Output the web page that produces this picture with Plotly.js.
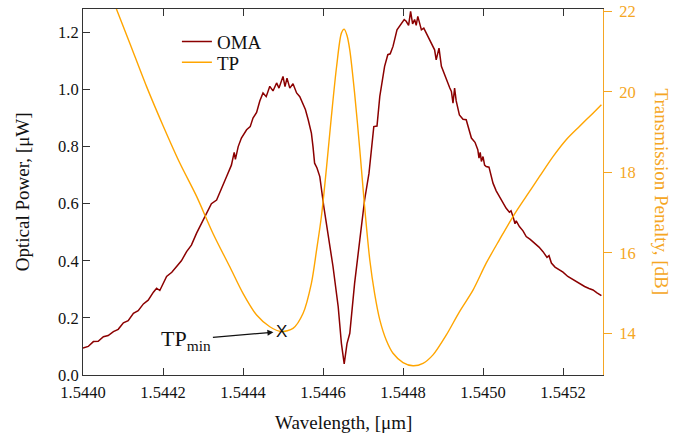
<!DOCTYPE html>
<html>
<head>
<meta charset="utf-8">
<script src="https://cdn.plot.ly/plotly-3.0.1.min.js"></script>
<style>html,body{margin:0;padding:0;background:#fff}#chart{width:677px;height:439px}</style>
</head>
<body>
<div id="chart"></div>
<script>
// ---- data ----
const omaWavelength = [
1.544000,1.544013,1.544026,1.544038,1.544051,1.544063,1.544076,1.544088,1.544101,1.544113,
1.544126,1.544138,1.544151,1.544163,1.544176,1.544184,1.544192,1.544209,1.544222,1.544234,
1.544246,1.544259,1.544271,1.544284,1.544296,1.544309,1.544321,1.544334,1.544346,1.544359,
1.544371,1.544378,1.544381,1.544388,1.544396,1.544409,1.544418,1.544425,1.544434,1.544442,
1.544450,1.544458,1.544467,1.544475,1.544484,1.544490,1.544500,1.544505,1.544510,1.544517,
1.544525,1.544534,1.544542,1.544550,1.544556,1.544563,1.544571,1.544575,1.544579,1.544585,
1.544592,1.544602,1.544613,1.544625,1.544638,1.544646,1.544653,1.544660,1.544667,1.544679,
1.544692,1.544704,1.544715,1.544727,1.544735,1.544742,1.544754,1.544762,1.544768,1.544775,
1.544785,1.544796,1.544803,1.544808,1.544814,1.544819,1.544824,1.544829,1.544833,1.544837,
1.544846,1.544852,1.544858,1.544867,1.544872,1.544879,1.544883,1.544890,1.544896,1.544908,
1.544917,1.544921,1.544925,1.544929,1.544933,1.544941,1.544950,1.544958,1.544965,1.544971,
1.544980,1.544987,1.544990,1.544993,1.544996,1.545000,1.545004,1.545008,1.545015,1.545025,
1.545033,1.545041,1.545050,1.545058,1.545066,1.545070,1.545075,1.545080,1.545083,1.545091,
1.545100,1.545108,1.545118,1.545129,1.545140,1.545150,1.545160,1.545165,1.545171,1.545180,
1.545192,1.545200,1.545212,1.545222,1.545233,1.545243,1.545254,1.545265,1.545275,1.545285,
1.545296];
const omaValues = [
0.094,0.100,0.117,0.118,0.134,0.138,0.152,0.160,0.183,0.190,
0.216,0.225,0.249,0.262,0.290,0.304,0.296,0.345,0.360,0.380,
0.400,0.432,0.455,0.497,0.530,0.567,0.600,0.613,0.650,0.695,
0.735,0.780,0.755,0.800,0.830,0.859,0.870,0.900,0.920,0.960,
0.988,0.975,1.011,0.995,1.023,1.005,1.046,1.010,1.040,1.005,
1.020,0.988,0.975,0.952,0.930,0.894,0.847,0.800,0.742,0.725,
0.695,0.590,0.497,0.380,0.239,0.111,0.039,0.110,0.146,0.321,
0.473,0.613,0.707,0.870,0.872,0.976,1.081,1.122,1.125,1.151,
1.209,1.233,1.245,1.239,1.225,1.274,1.230,1.245,1.225,1.256,
1.209,1.215,1.198,1.174,1.160,1.139,1.104,1.145,1.081,1.034,
1.005,0.993,0.952,1.005,0.960,0.911,0.896,0.894,0.860,0.830,
0.815,0.789,0.760,0.780,0.748,0.765,0.735,0.730,0.728,0.672,
0.645,0.625,0.603,0.584,0.570,0.575,0.555,0.530,0.540,0.520,
0.505,0.485,0.475,0.462,0.448,0.432,0.412,0.418,0.392,0.378,
0.368,0.360,0.345,0.336,0.327,0.318,0.310,0.303,0.298,0.288,
0.278];

const tpWavelength = [
1.544080,1.544117,1.544159,1.544201,1.544242,1.544284,1.544325,1.544367,1.544400,1.544434,
1.544467,1.544496,1.544525,1.544550,1.544571,1.544584,1.544596,1.544609,1.544621,1.544634,
1.544646,1.544653,1.544660,1.544667,1.544679,1.544692,1.544704,1.544717,1.544729,1.544742,
1.544758,1.544775,1.544800,1.544825,1.544850,1.544875,1.544908,1.544941,1.544975,1.545008,
1.545041,1.545075,1.545108,1.545141,1.545175,1.545208,1.545241,1.545275,1.545296];
const tpValues = [
22.15,21.21,20.13,19.14,18.23,17.40,16.48,15.65,14.99,14.45,
14.16,14.04,14.12,14.49,15.24,16.07,16.90,18.14,19.39,20.63,
21.46,21.56,21.40,21.04,19.97,18.56,17.15,15.82,14.99,14.33,
13.83,13.50,13.27,13.19,13.25,13.46,13.95,14.53,15.07,15.74,
16.32,16.90,17.40,17.89,18.39,18.81,19.14,19.47,19.68];

const xTickVals = [1.5440,1.5442,1.5444,1.5446,1.5448,1.5450,1.5452];
const xTickText = ["1.5440","1.5442","1.5444","1.5446","1.5448","1.5450","1.5452"];
const yTickVals = [0.0,0.2,0.4,0.6,0.8,1.0,1.2];
const yTickText = ["0.0","0.2","0.4","0.6","0.8","1.0","1.2"];
const y2TickVals = [14,16,18,20,22];
const y2TickText = ["14","16","18","20","22"];

// ---- styles ----
const SERIF = "Liberation Serif";
const SANS = "Liberation Sans";
const RED = "#8B0000";
const ORANGE = "#FFA500";
const ORANGE_TXT = "#F5A623";
const AXIS = "#333333";

// local minimum of TP (left valley, below the first peak)
let minIdx = 0;
for (let i = 0; i < tpValues.length; i++) {
  if (tpWavelength[i] < 1.54460 && tpValues[i] < tpValues[minIdx]) minIdx = i;
}

const traces = [
  {x: omaWavelength, y: omaValues, type: "scatter", mode: "lines", name: "OMA",
   line: {color: RED, width: 1.5}, yaxis: "y", legend: "legend"},
  {x: tpWavelength, y: tpValues, type: "scatter", mode: "lines", name: "TP",
   line: {color: ORANGE, width: 1.4, shape: "spline", smoothing: 0.8}, yaxis: "y2", legend: "legend2"}
];

const legendStyle = (y) => ({x: 0.1806, y: y, xanchor: "left", yanchor: "top",
  bgcolor: "rgba(0,0,0,0)", font: {family: SERIF, size: 19, color: "#111"}});

const layout = {
  width: 677, height: 439,
  margin: {l: 83, r: 74, t: 9, b: 64},
  paper_bgcolor: "#fff", plot_bgcolor: "#fff",
  font: {family: SERIF, color: "#111"},
  showlegend: true,
  legend: legendStyle(0.963),
  legend2: legendStyle(0.906),
  xaxis: {range: [1.5440, 1.5453], tickvals: xTickVals, ticktext: xTickText,
          ticks: "inside", ticklen: 7, tickwidth: 1, tickcolor: AXIS,
          showline: true, linecolor: AXIS, linewidth: 1, mirror: "ticks",
          showgrid: false, zeroline: false, ticklabelstandoff: 2,
          tickfont: {family: SERIF, size: 16.5, color: "#111"}},
  yaxis: {range: [0, 1.282], tickvals: yTickVals, ticktext: yTickText,
          ticks: "inside", ticklen: 7, tickwidth: 1, tickcolor: AXIS,
          showline: true, linecolor: AXIS, linewidth: 1, mirror: false,
          showgrid: false, zeroline: false,
          tickfont: {family: SERIF, size: 16.5, color: "#111"}},
  yaxis2: {range: [12.96, 22.06], tickvals: y2TickVals, ticktext: y2TickText,
           overlaying: "y", side: "right", anchor: "x",
           ticks: "outside", ticklen: 8, tickwidth: 1, tickcolor: ORANGE_TXT,
           showline: true, linecolor: ORANGE_TXT, linewidth: 1,
           showgrid: false, zeroline: false, ticklabelstandoff: 4,
           tickfont: {family: SERIF, size: 16.5, color: ORANGE_TXT}},
  annotations: [
    {xref: "paper", yref: "paper", x: 0.5, y: -0.131, text: "Wavelength, [μm]",
     showarrow: false, xanchor: "center", yanchor: "middle",
     font: {family: SERIF, size: 19, color: "#111"}},
    {xref: "paper", yref: "paper", x: -0.117, y: 0.5, text: "Optical Power, [μW]",
     showarrow: false, textangle: -90, xanchor: "center", yanchor: "middle",
     font: {family: SERIF, size: 19, color: "#111"}},
    {xref: "paper", yref: "paper", x: 1.1143, y: 0.5, text: "Transmission Penalty, [dB]",
     showarrow: false, textangle: 90, xanchor: "center", yanchor: "middle",
     font: {family: SERIF, size: 19, color: ORANGE_TXT}},
    {xref: "x", yref: "y2", x: tpWavelength[minIdx], y: tpValues[minIdx], text: "X",
     showarrow: false, xanchor: "center", yanchor: "middle",
     font: {family: SANS, size: 17, color: "#111"}},
    {xref: "x", yref: "y2", x: tpWavelength[minIdx], y: tpValues[minIdx],
     text: "TP<sub>min</sub>", showarrow: true, axref: "pixel", ayref: "pixel",
     ax: -95, ay: 8, standoff: 8, arrowhead: 2, arrowsize: 1, arrowwidth: 1.2,
     arrowcolor: "#111", font: {family: SERIF, size: 22, color: "#111"}}
  ]
};

Plotly.newPlot("chart", traces, layout, {displayModeBar: false, staticPlot: true});
</script>
</body>
</html>
